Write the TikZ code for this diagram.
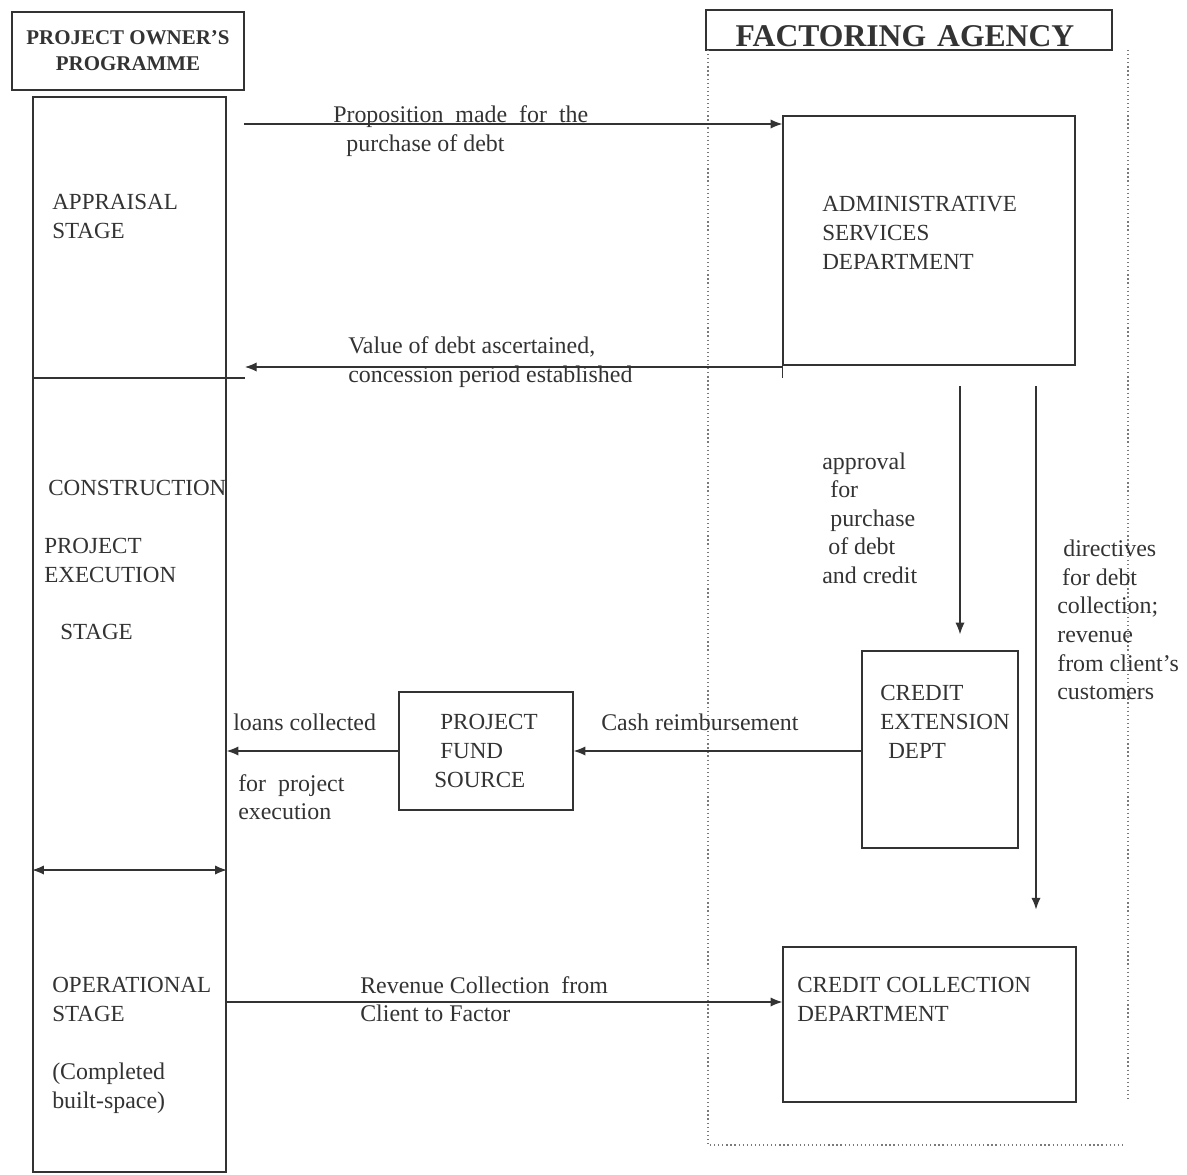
\documentclass[tikz,border=0pt]{standalone}
\usepackage{fontspec}
\setmainfont{Liberation Serif}
\usepackage{xcolor}
\usepackage{tikz}
\usetikzlibrary{arrows.meta}
\usetikzlibrary{shapes,positioning}
\definecolor{inkGray}{HTML}{333333}
\definecolor{frameGray}{HTML}{7A7A7A}
\newcommand{\labelfont}{\fontsize{17pt}{20.3pt}\selectfont}
\newcommand{\capsfont}{\fontsize{16.4pt}{20.6pt}\selectfont}
\tikzset{>={Latex[length=2.9mm,width=2.3mm]}}
\tikzset{stage-line/.style={line width=1pt, draw=inkGray}}
\tikzset{dept-box/.style={draw=inkGray, line width=1pt, inner sep=0, anchor=center}}
\tikzset{title-box/.style={dept-box, font=\bfseries\fontsize{14.9pt}{18.5pt}\selectfont, align=center, text=inkGray}}
\tikzset{flow-arrow/.style={->, line width=0.8pt, draw=inkGray}}
\tikzset{flow-text/.style={inner sep=0, anchor=west, align=left, text=inkGray, font=\labelfont}}
\tikzset{caps-text/.style={flow-text, font=\capsfont}}
\tikzset{agency-frame/.style={dotted, line width=0.9pt, draw=frameGray}}

\begin{document}
\begin{tikzpicture}[x=0.025cm, y=-0.025cm]
    \useasboundingbox (0,0) rectangle (1187,1174);

    % project owner side
    \node[title-box, minimum width=5.8cm, minimum height=1.95cm] (ownerbox) at (128,51)
        {PROJECT OWNER'S\\PROGRAMME};
    \node[dept-box, minimum width=4.825cm, minimum height=26.875cm] (column) at (129.5,634.5) {};
    \draw[stage-line] (column.west |- 0,378) -- (245,378);
    \draw[stage-line, <->, line width=0.8pt] (column.west |- 0,870) -- (column.east |- 0,870);

    \node[caps-text] (appraisal) at (52,216) {APPRAISAL\\STAGE};
    \node[caps-text] (construct) at (48,488) {CONSTRUCTION};
    \node[caps-text] (execution) at (44,560) {PROJECT\\EXECUTION};
    \node[caps-text] (execstage) at (60,632) {STAGE};
    \node[caps-text] (operation) at (52,999) {OPERATIONAL\\STAGE};
    \node[flow-text] (builtspace) at (52,1088) {(Completed\\built-space)};

    % factoring agency side
    \node[dept-box, minimum width=10.15cm, minimum height=1cm] (factorbox) at (909,30) {};
    \node[inner sep=0, text=inkGray, font=\bfseries\fontsize{22.5pt}{26pt}\selectfont] (factortext) at (905,36)
        {FACTORING\hspace{0.35em}AGENCY};
    \draw[agency-frame] (708,50) -- (708,1145) -- (1122,1145);
    \draw[agency-frame] (1128,50) -- (1128,1100);

    \node[dept-box, minimum width=7.3cm, minimum height=6.225cm] (adminbox) at (929,240.5) {};
    \node[caps-text] (admintext) at (822,233) {ADMINISTRATIVE\\SERVICES\\DEPARTMENT};
    \draw[stage-line] (adminbox.south west) -- ++(0,12);

    \node[dept-box, minimum width=3.9cm, minimum height=4.925cm] (creditext) at (940,749.5) {};
    \node[caps-text] (credittext) at (880,722) {CREDIT\\EXTENSION\\\hspace*{0.2cm}DEPT};

    \node[dept-box, minimum width=7.325cm, minimum height=3.875cm] (collectbox) at (929.5,1024.5) {};
    \node[caps-text] (collecttext) at (797,999) {CREDIT COLLECTION\\DEPARTMENT};

    \node[dept-box, minimum width=4.35cm, minimum height=2.95cm, font=\capsfont, align=left, text=inkGray]
        (fundbox) at (486,751) {\hspace*{0.15cm}PROJECT\\\hspace*{0.15cm}FUND\\SOURCE};

    % flows
    \coordinate (propstart) at (244,124);
    \coordinate (valueend) at (245,367);
    \coordinate (approvalstart) at (960,386);
    \coordinate (directstart) at (1036,386);
    \coordinate (revenueline) at (0,1002);

    \draw[flow-arrow] (propstart) -- (adminbox.west |- propstart);
    \draw[flow-arrow] (adminbox.south west |- valueend) -- (valueend);
    \draw[flow-arrow, shorten >=0.4cm] (approvalstart) -- (approvalstart |- creditext.north);
    \draw[flow-arrow, shorten >=0.92cm] (directstart) -- (directstart |- collectbox.north);
    \draw[flow-arrow] (creditext.west |- fundbox.east) -- (fundbox.east);
    \draw[flow-arrow] (fundbox.west) -- (column.east |- fundbox.west);
    \draw[flow-arrow] (column.east |- revenueline) -- (collectbox.west |- revenueline);

    \node[flow-text] (proptext) at (333,131)
        {Proposition\ \ made\ \ for\ \ the\\\hspace*{0.33cm}purchase of debt};
    \node[flow-text] (valuetext) at (348,362) {Value of debt ascertained,\\concession period established};
    \node[flow-text] (approvaltext) at (822,518)
        {approval\\\hspace*{0.2cm}for\\\hspace*{0.2cm}purchase\\\hspace*{0.15cm}of debt\\and credit};
    \node[flow-text] (directtext) at (1057,620)
        {\hspace*{0.15cm}directives\\\hspace*{0.12cm}for debt\\collection;\\revenue\\from client's\\customers};
    \node[flow-text] (cashtext) at (601,722) {Cash reimbursement};
    \node[flow-text] (loantext) at (233,722) {loans collected};
    \node[flow-text] (fortext) at (238,797) {for\ \ project\\execution};
    \node[flow-text] (revenuetext) at (360,999) {Revenue Collection\ \ from\\Client to Factor};
\end{tikzpicture}
\end{document}
